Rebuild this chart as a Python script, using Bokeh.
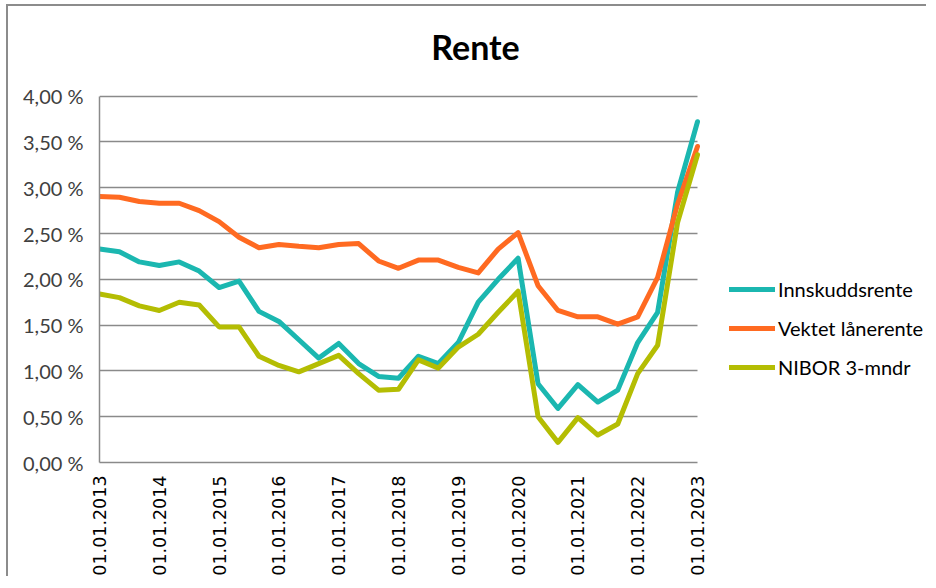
from bokeh.plotting import figure
from bokeh.models import (Legend, LegendItem, FixedTicker, CustomJSTickFormatter,
                          Range1d, Label)
from bokeh.embed import file_html
from bokeh.resources import INLINE
from math import pi

# --- data -------------------------------------------------------------
title_text = "Rente"
years = list(range(2013, 2024))
tick_labels = ["01.01.%d" % y for y in years]
innskuddsrente = [2.33, 2.30, 2.19, 2.15, 2.19, 2.09, 1.91, 1.98, 1.65, 1.54,
                  1.34, 1.14, 1.30, 1.08, 0.94, 0.92, 1.16, 1.08, 1.31, 1.75,
                  2.00, 2.23, 0.86, 0.59, 0.85, 0.66, 0.79, 1.31, 1.64, 2.95,
                  3.72]
vektet_laanerente = [2.905, 2.895, 2.85, 2.83, 2.83, 2.75, 2.63, 2.46, 2.345, 2.38,
                     2.36, 2.345, 2.38, 2.39, 2.20, 2.12, 2.21, 2.21, 2.13, 2.07,
                     2.33, 2.51, 1.93, 1.66, 1.59, 1.59, 1.51, 1.59, 2.02, 2.82,
                     3.45]
nibor_3m = [1.84, 1.80, 1.71, 1.66, 1.75, 1.72, 1.48, 1.48, 1.16, 1.06,
            0.99, 1.08, 1.17, 0.97, 0.79, 0.80, 1.12, 1.03, 1.26, 1.40,
            1.64, 1.87, 0.50, 0.22, 0.49, 0.30, 0.42, 0.97, 1.28, 2.62,
            3.36]
series_names = ["Innskuddsrente", "Vektet lånerente", "NIBOR 3-mndr"]
y_ticks = [0, 0.5, 1.0, 1.5, 2.0, 2.5, 3.0, 3.5, 4.0]

x = list(range(len(innskuddsrente)))
points_per_year = 3
year_ticks = [i * points_per_year for i in range(len(years))]

colors = ["#1BB7B0", "#FF6A21", "#B4BD03"]
grid_col = "#8a8a8a"
txt_col = "#404040"

# layout: the data area is 598 x 368 px; the frame is extended to the right
# and to the top (blank) so that legend and title can sit there unclipped
W, H = 920, 572
left_b, bottom_b = 91, 114
data_w, data_h = 598, 368
frame_w, frame_h = W - left_b, H - bottom_b
y_top = y_ticks[-1]
x_end = x[-1] * frame_w / data_w
y_end = y_top * frame_h / data_h
px_x = data_w / x[-1]
px_y = data_h / y_top

p = figure(width=W, height=H, output_backend="svg", toolbar_location=None,
           x_range=Range1d(0, x_end), y_range=Range1d(0, y_end),
           min_border_left=left_b, min_border_right=0,
           min_border_top=0, min_border_bottom=bottom_b)
p.outline_line_color = None
p.background_fill_color = "white"
p.border_fill_color = "white"
p.styles = {"margin-left": "6px", "margin-top": "4px",
            "border-left": "2px solid #8c8c8c", "border-top": "2px solid #8c8c8c"}

renderers = []
for vals, c in zip([innskuddsrente, vektet_laanerente, nibor_3m], colors):
    r = p.line(x, vals, line_color=c, line_width=5, line_join="round", line_cap="round")
    renderers.append(r)

# axes
p.yaxis.ticker = FixedTicker(ticks=y_ticks)
p.yaxis.bounds = (y_ticks[0], y_top)
p.yaxis.formatter = CustomJSTickFormatter(code="return tick.toFixed(2).replace('.', ',') + ' %';")
p.yaxis.major_label_text_font = "Lato"
p.yaxis.major_label_text_font_size = "20px"
p.yaxis.major_label_text_color = txt_col
p.yaxis.major_tick_line_color = None
p.yaxis.major_tick_out = 0
p.yaxis.major_tick_in = 0
p.yaxis.minor_tick_line_color = None
p.yaxis.axis_line_color = grid_col
p.yaxis.axis_line_width = 1.5
p.yaxis.major_label_standoff = 16

p.xaxis.ticker = FixedTicker(ticks=year_ticks)
p.xaxis.bounds = (x[0], x[-1])
p.xaxis.major_label_overrides = {t: lab for t, lab in zip(year_ticks, tick_labels)}
p.xaxis.major_label_orientation = pi / 2
p.xaxis.major_label_text_font = "DejaVu Sans"
p.xaxis.major_label_text_font_size = "17.5px"
p.xaxis.major_label_text_color = "black"
p.xaxis.major_tick_line_color = None
p.xaxis.major_tick_out = 0
p.xaxis.major_tick_in = 0
p.xaxis.minor_tick_line_color = None
p.xaxis.axis_line_color = grid_col
p.xaxis.axis_line_width = 1.5
p.xaxis.major_label_standoff = 13

p.xgrid.grid_line_color = None
p.ygrid.grid_line_color = grid_col
p.ygrid.grid_line_width = 1.5
p.ygrid.cross_bounds = (x[0], x[-1])

# title: centred 376 px right of the data area's left edge, above the data area
title = Label(x=376 / px_x, y=y_top + 50 / px_y, text=title_text,
              text_font="Lato", text_font_style="bold", text_font_size="34px",
              text_color="black", text_align="center", text_baseline="alphabetic")
p.add_layout(title)

legend = Legend(items=[LegendItem(label=n, renderers=[r]) for n, r in zip(series_names, renderers)],
                location=(630, 83), orientation="vertical")
legend.glyph_width = 46
legend.glyph_height = 20
legend.label_height = 20
legend.spacing = 15
legend.padding = 0
legend.margin = 0
legend.label_standoff = 3
legend.border_line_color = None
legend.background_fill_alpha = 0
legend.label_text_font = "Lato"
legend.label_text_font_size = "20px"
legend.label_text_color = "black"
p.add_layout(legend, "center")

open("out.html", "w").write(file_html(p, INLINE))
